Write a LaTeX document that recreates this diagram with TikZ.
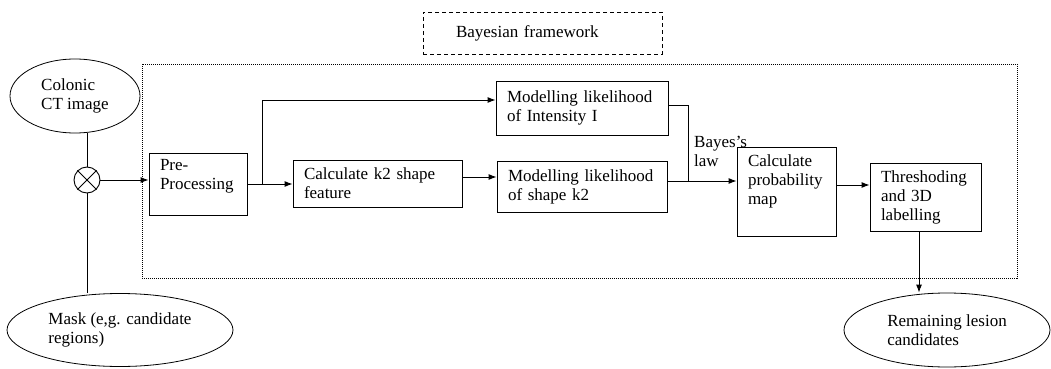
\documentclass[tikz,border=0pt]{standalone}
\usepackage{fontspec}
\setmainfont{Liberation Serif}
\usetikzlibrary{shapes.geometric,arrows.meta}
\begin{document}
\begin{tikzpicture}[x=1pt,y=-1pt,
  every node/.style={font=\fontsize{17}{19}\selectfont},
  box/.style={draw, line width=0.9pt, rectangle, inner xsep=11pt, inner ysep=0pt, align=left},
  oval/.style={draw, ellipse, line width=0.8pt, inner sep=0pt, align=left},
  conn/.style={line width=0.9pt},
  arr/.style={conn, -{Latex[length=8pt,width=6pt]}}
]
\useasboundingbox (0,0) rectangle (1051,369);

% frames
\node[draw, line width=0.8pt, dash pattern=on 1pt off 1pt, minimum width=875pt, minimum height=214pt, inner sep=0pt] (frame) at (579.5,171) {};
\node[box, dash pattern=on 4pt off 3pt, line width=0.8pt, minimum width=239pt, minimum height=42pt, inner xsep=33pt, text width=173pt] (bf) at (542.5,33) {Bayesian framework};

% process boxes
\node[box, text width=76pt, minimum height=62pt, text height=12pt, text depth=39pt] (pre) at (198,184) {Pre-\\Processing};
\node[box, text width=147pt, minimum height=47pt] (k2) at (377.5,183.5) {Calculate k2 shape\\feature};
\node[box, text width=150pt, minimum height=54pt] (int) at (582,108) {Modelling likelihood\\of Intensity I};
\node[box, text width=148pt, minimum height=51pt] (shape) at (582,186.5) {Modelling likelihood\\of shape k2};
\node[box, text width=77pt, minimum height=89pt, text height=12pt, text depth=62pt] (prob) at (786.5,191.5) {Calculate\\probability\\map};
\node[box, text width=89pt, minimum height=68pt] (thresh) at (925.5,197) {Threshoding\\and 3D\\labelling};

% ellipses
\node[oval, minimum width=130pt, minimum height=74pt] (ct) at (75,96) {Colonic\\CT image};
\node[oval, minimum width=226pt, minimum height=73pt] (mask) at (120,330) {Mask (e,g. candidate\\regions)};
\node[oval, minimum width=206pt, minimum height=74pt] (rem) at (947,330) {Remaining lesion\\candidates};

% multiplier
\node[draw, circle, minimum size=26pt, inner sep=0pt, line width=0.9pt] (mul) at (87,180) {};
\draw[conn] (mul.north east) -- (mul.south west) (mul.north west) -- (mul.south east);

% label
\node[anchor=north west, inner sep=0pt, align=left] (bl) at (694,136) {Bayes’s\\law};

% coordinates
\coordinate (br) at (262,184);
\coordinate (bt) at (262,100);
\coordinate (ka) at (0,177);
\coordinate (m1) at (688,105);
\coordinate (m2) at (688,181);
\coordinate (pt) at (0,185);
\coordinate (dn) at (919,0);

% connectors
\draw[conn] (mul.north) -- (mul.north |- ct.south);
\draw[conn] (mul.south) -- (mul.south |- mask.north);
\draw[arr] (mul.east) -- (mul.east -| pre.west);
\draw[conn] (pre.east |- br) -- (br);
\draw[arr] (br) -- (br -| k2.west);
\draw[arr] (br) -- (bt) -- (bt -| int.west);
\draw[arr] (k2.east |- ka) -- (shape.west |- ka);
\draw[conn] (int.east |- m1) -- (m1) -- (m2);
\draw[arr] (shape.east |- m2) -- (prob.west |- m2);
\draw[arr] (prob.east |- pt) -- (thresh.west |- pt);
\draw[arr] (thresh.south -| dn) -- (rem.north -| dn);
\end{tikzpicture}
\end{document}
